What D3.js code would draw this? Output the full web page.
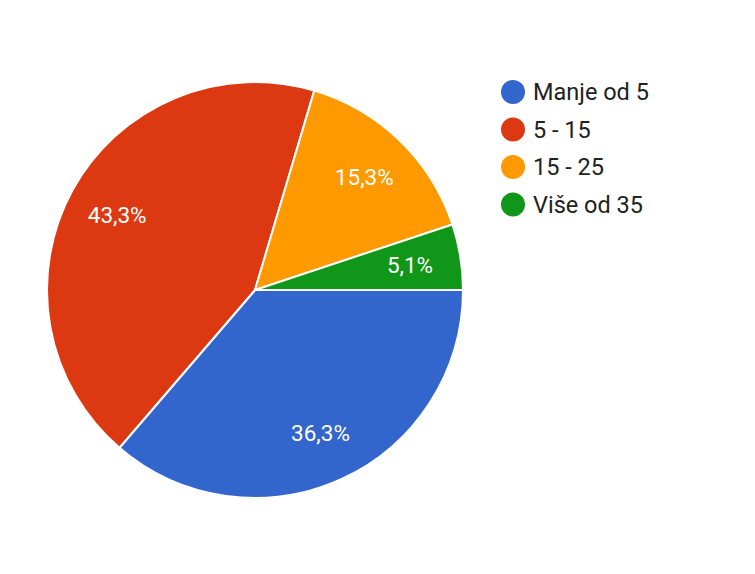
<!DOCTYPE html>
<html><head><meta charset="utf-8">
<script src="https://cdn.jsdelivr.net/npm/d3@7"></script>
<style>body{margin:0;background:#fff;font-family:Roboto,Arial,sans-serif;}</style>
</head><body>
<svg id="c" width="755" height="574"></svg>
<script>
const categories = ["Manje od 5", "5 - 15", "15 - 25", "Više od 35"];
const values = [36.3, 43.3, 15.3, 5.1];
const labels = ["36,3%", "43,3%", "15,3%", "5,1%"];
const colors = ["#3366cc", "#dc3912", "#ff9900", "#109618"];

const svg = d3.select("#c");
const cx = 255, cy = 290, R = 208;
const g = svg.append("g").attr("transform", `translate(${cx},${cy})`);
const pie = d3.pie().sort(null).startAngle(Math.PI/2).endAngle(Math.PI/2 + 2*Math.PI);
const arcs = pie(values);
const arc = d3.arc().innerRadius(0).outerRadius(R);
const labelArc = d3.arc().innerRadius(157).outerRadius(157);
g.selectAll("path").data(arcs).join("path")
  .attr("d", arc).attr("fill", (d,i)=>colors[i])
  .attr("stroke", "#fff").attr("stroke-width", 2).attr("stroke-linejoin","round");
g.selectAll("text").data(arcs).join("text")
  .attr("transform", d => `translate(${labelArc.centroid(d)})`)
  .attr("text-anchor", "middle").attr("dy", "0.36em")
  .attr("fill", "#fff").attr("font-size", 22.5).attr("font-family", "Roboto")
  .text((d,i)=>labels[i]);

const leg = svg.append("g").attr("transform", "translate(513,92)");
const items = leg.selectAll("g").data(categories).join("g")
  .attr("transform", (d,i)=>`translate(0,${i*37.5})`);
items.append("circle").attr("r", 12).attr("fill", (d,i)=>colors[i]);
items.append("text").attr("x", 20).attr("dy", "0.36em")
  .attr("font-size", 23.5).attr("fill", "#222").attr("font-family", "Roboto")
  .text(d=>d);
</script>
</body></html>
